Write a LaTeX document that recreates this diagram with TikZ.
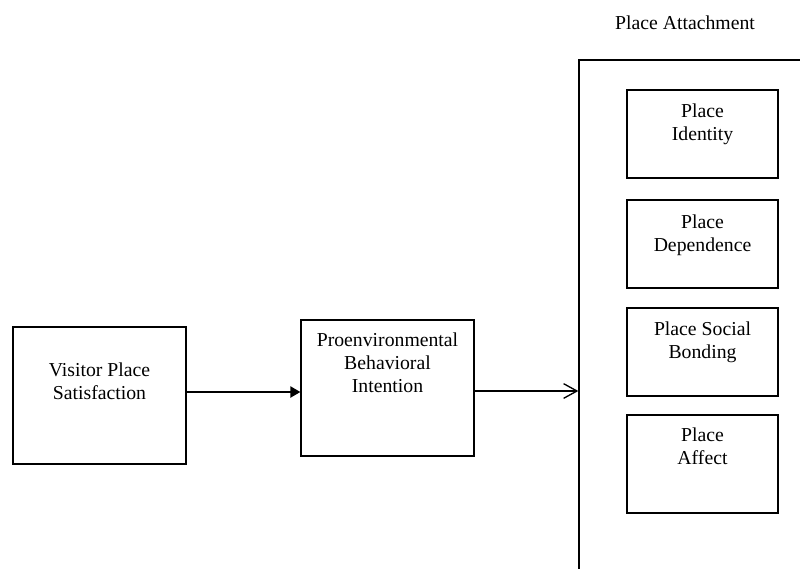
\documentclass[tikz,border=0pt]{standalone}
\usepackage{fontspec}
\setmainfont{Liberation Serif}
\usetikzlibrary{arrows.meta}

\begin{document}
\begin{tikzpicture}[x=0.75pt,y=0.75pt,yscale=-1,
  box/.style={draw,line width=1pt,rectangle,inner sep=0pt},
  txt/.style={anchor=base,align=center,inner sep=0pt,font=\fontsize{14.8}{17.25}\selectfont},
  fillarrow/.style={line width=1pt,-{Triangle[length=7.5pt,width=8.5pt]}},
  openarrow/.style={line width=1pt,-{Straight Barb[length=10pt,width=11pt,line width=1pt]}}]
\useasboundingbox (0,0) rectangle (800,568);
\clip (0,0) rectangle (800,568);

%Place Attachment frame, open at right and bottom
\node [box,minimum width=252*0.75pt,minimum height=520*0.75pt] (attach) at (705,320) {};
\node [txt] (attachText) at (685,29.3) {Place Attachment};

%Left boxes (text placed by baseline of its last line)
\node [box,minimum width=173*0.75pt,minimum height=137*0.75pt] (sat) at (99.5,395.5) {};
\node [txt] (satText) at (99.5,399.7) {Visitor Place\\Satisfaction};
\node [box,minimum width=173*0.75pt,minimum height=136*0.75pt] (beh) at (387.5,388) {};
\node [txt] (behText) at (387.5,392.7) {Proenvironmental\\Behavioral\\Intention};

%Dimensions of place attachment
\node [box,minimum width=151*0.75pt,minimum height=88*0.75pt] (ident) at (702.5,134) {};
\node [txt] (identText) at (702.5,140.3) {Place\\Identity};
\node [box,minimum width=151*0.75pt,minimum height=88*0.75pt] (dep) at (702.5,244) {};
\node [txt] (depText) at (702.5,251.3) {Place\\Dependence};
\node [box,minimum width=151*0.75pt,minimum height=88*0.75pt] (bond) at (702.5,352) {};
\node [txt] (bondText) at (702.5,358) {Place Social\\Bonding};
\node [box,minimum width=151*0.75pt,minimum height=98*0.75pt] (affect) at (702.5,464) {};
\node [txt] (affectText) at (702.5,464.7) {Place\\Affect};

%Arrows
\draw [fillarrow] (sat.east |- 0,392) -- (beh.west |- 0,392);
\draw [openarrow] (beh.east |- 0,391) -- (attach.west |- 0,391);

\end{tikzpicture}
\end{document}
